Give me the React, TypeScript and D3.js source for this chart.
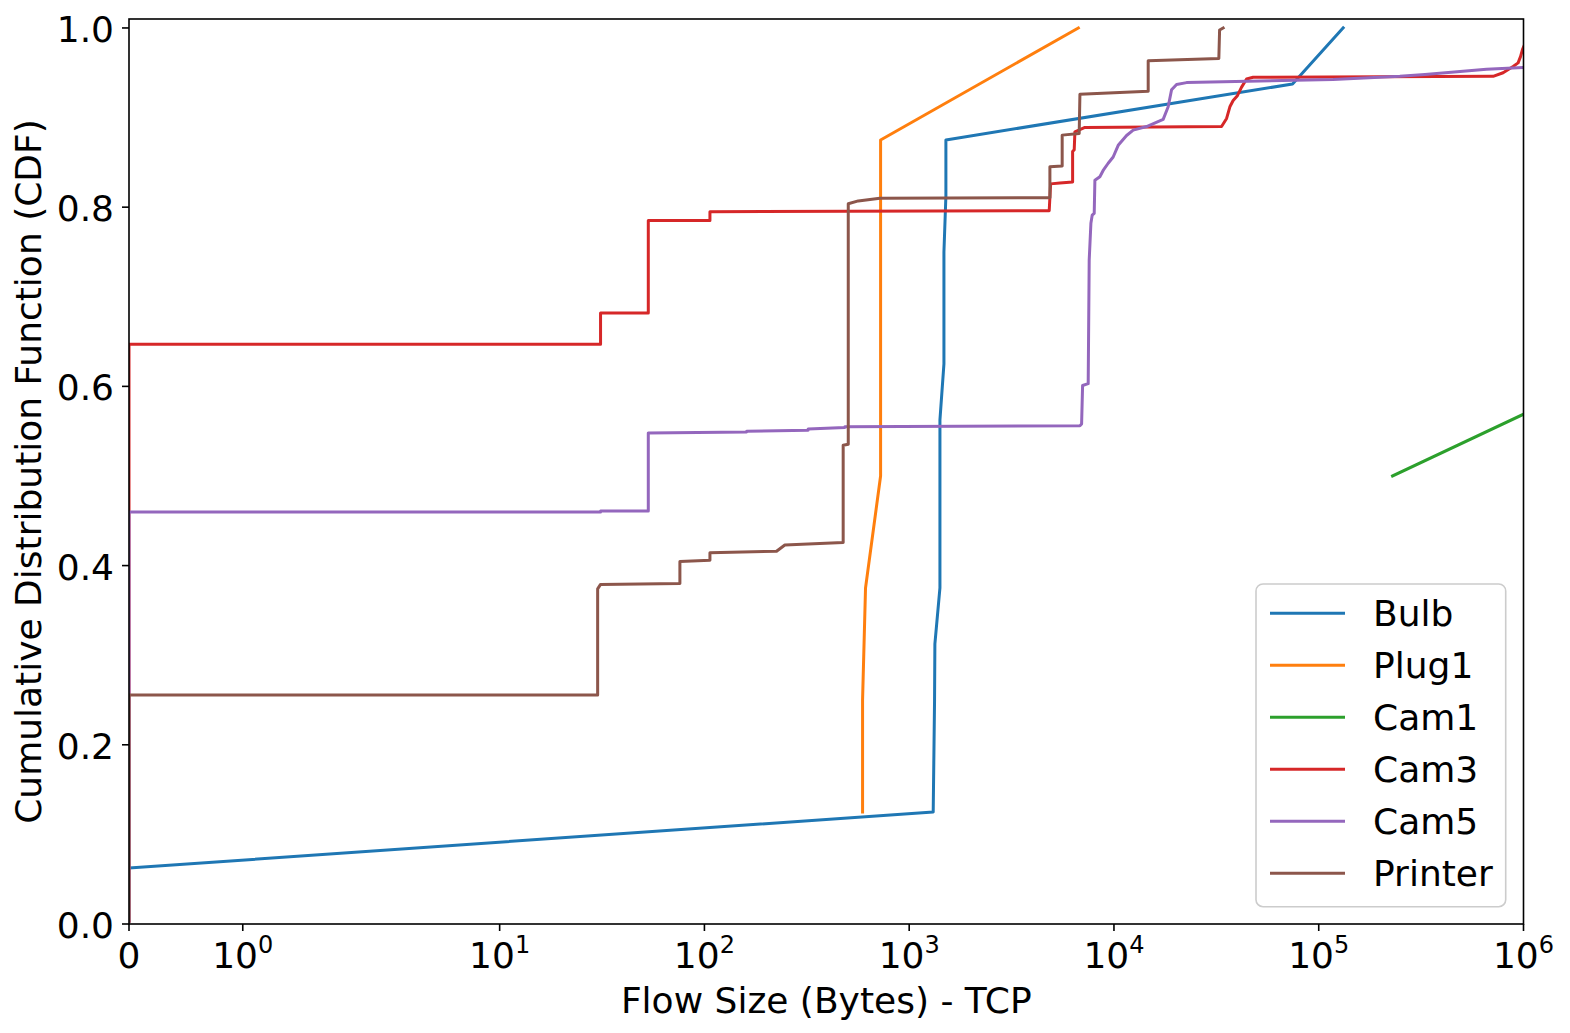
import React, { useEffect } from 'react';
import * as d3 from 'd3';

// ---------------- data ----------------
const SERIES_NAMES = ['Bulb', 'Plug1', 'Cam1', 'Cam3', 'Cam5', 'Printer'];
const SERIES_COLORS = ['#1f77b4', '#ff7f0e', '#2ca02c', '#d62728', '#9467bd', '#8c564b'];

const BULB: [number, number][] = [
  [0, 0.0625], [1310, 0.125], [1320, 0.1875], [1330, 0.25], [1335, 0.3125],
  [1413, 0.375], [1413, 0.4375], [1413, 0.5], [1413, 0.5625],
  [1478, 0.625], [1478, 0.6875], [1478, 0.75], [1511, 0.8125], [1511, 0.875],
  [74500, 0.9375], [131600, 1.0],
];

const PLUG1: [number, number][] = [
  [592, 0.125], [592, 0.25], [612, 0.375], [725, 0.5], [725, 0.625],
  [725, 0.75], [725, 0.875], [6700, 1.0],
];

const CAM1: [number, number][] = [
  [229400, 0.5], [1.0e10, 1.0],
];

const CAM3: [number, number][] = [
  [0, 0.003], [0, 0.647], [31.1, 0.647], [31.1, 0.682], [53.2, 0.682], [53.2, 0.785],
  [106.4, 0.785], [106.4, 0.795], [4828, 0.796], [4904, 0.826], [5444, 0.827],
  [6282, 0.828], [6282, 0.862], [6396, 0.864], [6446, 0.884], [7212, 0.889],
  [33530, 0.890], [35490, 0.899], [36820, 0.912], [38200, 0.919], [39960, 0.924],
  [42000, 0.934], [44420, 0.943], [47830, 0.945], [710600, 0.946], [795000, 0.950],
  [889600, 0.957], [941000, 0.961], [967000, 0.968], [989000, 0.976], [1.1e6, 1.0],
];

const CAM5: [number, number][] = [
  [0, 0.003], [0, 0.4597], [31.1, 0.4597], [31.1, 0.461], [53.2, 0.461], [53.2, 0.548],
  [160.7, 0.549], [160.7, 0.550], [321, 0.551], [321, 0.5525], [485, 0.554], [485, 0.555],
  [6820, 0.556], [6950, 0.558], [7028, 0.601], [7484, 0.603], [7570, 0.741],
  [7716, 0.782], [7828, 0.791], [8008, 0.793], [8070, 0.830], [8534, 0.834],
  [8856, 0.841], [9370, 0.849], [9912, 0.856], [10488, 0.869], [11524, 0.880],
  [12412, 0.886], [14432, 0.890], [17392, 0.898], [18398, 0.912], [19114, 0.931],
  [20220, 0.937], [22620, 0.939], [117500, 0.9425], [249000, 0.946], [330000, 0.948],
  [659600, 0.954], [995600, 0.956], [1.5e6, 0.958],
];

const PRINTER: [number, number][] = [
  [0, 0.003], [0, 0.2556], [30.1, 0.2556], [30.1, 0.374], [31.1, 0.379], [75.9, 0.380],
  [75.9, 0.4046], [106.4, 0.406], [106.4, 0.4143], [225, 0.416], [247, 0.423],
  [476, 0.4257], [476, 0.5343], [504, 0.5355], [504, 0.8038], [564, 0.807],
  [719, 0.810], [4866, 0.8105], [4866, 0.845], [5586, 0.846], [5586, 0.8804],
  [6764, 0.8822], [6820, 0.926], [14696, 0.9293], [14696, 0.9633], [32520, 0.966],
  [32800, 0.9977], [34140, 1.0],
];

const SERIES_DATA = [BULB, PLUG1, CAM1, CAM3, CAM5, PRINTER];

const X_TICKS = [0, 1, 10, 100, 1e3, 1e4, 1e5, 1e6];
const X_TICK_EXP = [null, '0', '1', '2', '3', '4', '5', '6'];
const Y_TICKS = [0, 0.2, 0.4, 0.6, 0.8, 1.0];
const X_LABEL = 'Flow Size (Bytes) - TCP';
const Y_LABEL = 'Cumulative Distribution Function (CDF)';

// ---------------- layout ----------------
const W = 1570;
const H = 1033;
const PL = 129;
const PR = 1523.5;
const PT = 19;
const PB = 924;
const FONT = '"DejaVu Sans", sans-serif';
const FS = 36;

// matplotlib-like symlog transform (linthresh=2, linscale=1, base 10)
const LINTHRESH = 2;
const LINSCALE_ADJ = 1 / (1 - 1 / 10);
const symlog = (v: number) =>
  v <= LINTHRESH ? (v / LINTHRESH) * LINSCALE_ADJ : Math.log10(v / LINTHRESH) + LINSCALE_ADJ;

const xLin = d3.scaleLinear().domain([symlog(0), symlog(1e6)]).range([PL, PR]);
const x = (v: number) => xLin(symlog(v));
const y = d3.scaleLinear().domain([0, 1.01]).range([PB, PT]);

const lineGen = d3
  .line<[number, number]>()
  .x((d) => x(d[0]))
  .y((d) => y(d[1]));

export default function App() {
  useEffect(() => {
    document.body.style.margin = '0';
    document.body.style.overflow = 'hidden';
  }, []);

  const legendX = 1256;
  const legendY = 584;
  const legendW = 249.7;
  const legendH = 322.7;
  const rowY0 = 613.3;
  const rowStep = 52;

  return (
    <svg
      width={W}
      height={H}
      viewBox={`0 0 ${W} ${H}`}
      style={{ position: 'absolute', left: 0, top: 0, display: 'block', background: '#fff' }}
      fontFamily={FONT}
    >
      <defs>
        <clipPath id="plotClip">
          <rect x={PL} y={PT} width={PR - PL} height={PB - PT} />
        </clipPath>
      </defs>
      <rect x={0} y={0} width={W} height={H} fill="#fff" />

      <g clipPath="url(#plotClip)">
        {SERIES_DATA.map((data, i) => (
          <path
            key={SERIES_NAMES[i]}
            d={lineGen(data) || ''}
            fill="none"
            stroke={SERIES_COLORS[i]}
            strokeWidth={3}
            strokeLinejoin="round"
            strokeLinecap="square"
          />
        ))}
      </g>

      {/* spines */}
      <rect x={PL} y={PT} width={PR - PL} height={PB - PT} fill="none" stroke="#000" strokeWidth={1.6} />

      {/* x ticks */}
      {X_TICKS.map((t, i) => (
        <g key={'xt' + i}>
          <line x1={x(t)} x2={x(t)} y1={PB} y2={PB + 7} stroke="#000" strokeWidth={1.6} />
          {X_TICK_EXP[i] === null ? (
            <text x={x(t)} y={968} textAnchor="middle" fontSize={FS} fill="#000">
              0
            </text>
          ) : (
            <text x={x(t)} y={968} textAnchor="middle" fontSize={FS} fill="#000">
              10
              <tspan dy={-15} fontSize={24}>
                {X_TICK_EXP[i]}
              </tspan>
            </text>
          )}
        </g>
      ))}

      {/* y ticks */}
      {Y_TICKS.map((t) => (
        <g key={'yt' + t}>
          <line x1={PL - 7} x2={PL} y1={y(t)} y2={y(t)} stroke="#000" strokeWidth={1.6} />
          <text x={114} y={y(t) + 14} textAnchor="end" fontSize={FS} fill="#000">
            {t.toFixed(1)}
          </text>
        </g>
      ))}

      {/* axis labels */}
      <text x={(PL + PR) / 2} y={1013} textAnchor="middle" fontSize={FS} fill="#000">
        {X_LABEL}
      </text>
      <text
        transform={`translate(41, ${(PT + PB) / 2}) rotate(-90)`}
        textAnchor="middle"
        fontSize={FS}
        fill="#000"
      >
        {Y_LABEL}
      </text>

      {/* legend */}
      <rect
        x={legendX}
        y={legendY}
        width={legendW}
        height={legendH}
        rx={7}
        ry={7}
        fill="#fff"
        fillOpacity={0.8}
        stroke="#cccccc"
        strokeWidth={1.6}
      />
      {SERIES_NAMES.map((name, i) => (
        <g key={'lg' + name}>
          <line
            x1={1270}
            x2={1345}
            y1={rowY0 + i * rowStep}
            y2={rowY0 + i * rowStep}
            stroke={SERIES_COLORS[i]}
            strokeWidth={3}
          />
          <text x={1373} y={rowY0 + i * rowStep + 13} fontSize={FS} fill="#000">
            {name}
          </text>
        </g>
      ))}
    </svg>
  );
}
